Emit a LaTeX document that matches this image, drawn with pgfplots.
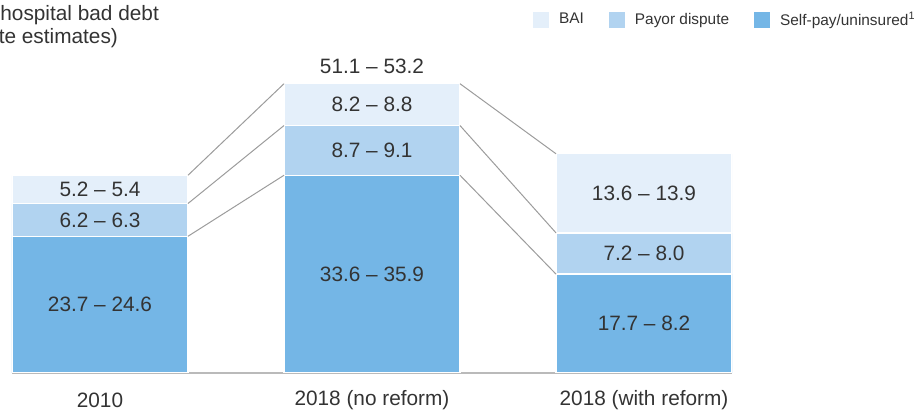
\documentclass[border=0pt]{standalone}
\usepackage{fontspec}
\setmainfont{Liberation Sans}
\usepackage{pgfplots}
\pgfplotsset{compat=1.18}
\usepackage{pgfplotstable}

\definecolor{cBAI}{HTML}{E4EFFA}
\definecolor{cPay}{HTML}{B1D3F0}
\definecolor{cSelf}{HTML}{74B6E6}
\definecolor{cTxt}{HTML}{333333}
\definecolor{cLine}{HTML}{9C9C9C}

% segment heights (billion $), bottom to top
\pgfplotstableread{
x self pay bai
0 24.2 5.8 5.0
1 35.0 8.8 7.4
2 17.5 7.3 14.0
}\bars

% value labels at segment middles
\pgfplotstableread[col sep=comma]{
x,y,label
0,12.1,23.7 – 24.6
0,27.1,6.2 – 6.3
0,32.5,5.2 – 5.4
1,17.5,33.6 – 35.9
1,39.4,8.7 – 9.1
1,47.5,8.2 – 8.8
1,54.2,51.1 – 53.2
2,8.75,17.7 – 8.2
2,21.15,7.2 – 8.0
2,31.8,13.6 – 13.9
}\labels

\newcommand{\valfont}{\fontsize{10.4}{12}\selectfont}

\begin{document}
\begin{tikzpicture}
\useasboundingbox (-6pt,-19pt) rectangle (454pt,186.5pt);

\pgfplotsset{
  base/.style={
    scale only axis,
    width=360pt, height=169.5pt,
    xmin=-0.3235, xmax=2.3235,
    ymin=0, ymax=60,
    at={(0,0)}, anchor=south west,
  }
}

\begin{axis}[
    base,
    ybar stacked,
    bar width=88pt,
    axis x line*=bottom,
    axis y line=none,
    x axis line style={draw=cLine!70, line width=0.6pt},
    xtick={0,1,2},
    xticklabels={2010, 2018 (no reform), 2018 (with reform)},
    major tick length=0pt,
    xticklabel style={font=\valfont, text=cTxt, anchor=center, yshift=-13.5pt},
    ytick=\empty,
  ]
  \addplot[fill=cSelf, draw=white, line width=0.7pt] table[x=x, y=self] {\bars};
  \addplot[fill=cPay, draw=white, line width=0.7pt] table[x=x, y=pay] {\bars};
  \addplot[fill=cBAI, draw=white, line width=0.7pt] table[x=x, y=bai] {\bars};
\end{axis}

\begin{axis}[
    base,
    hide axis,
    legend columns=3,
    legend image code/.code={\path[#1] (0pt,-4pt) rectangle (8pt,4pt); \path (11pt,0pt);},
    legend style={at={(1.261,1.041)}, anchor=east, draw=none, fill=none,
      inner sep=0pt, font=\fontsize{7.7}{9}\selectfont, text=cTxt,
      /tikz/every even column/.append style={column sep=10.5pt},
      nodes={inner sep=2pt}},
  ]
  \addlegendimage{fill=cBAI, draw=none}
  \addlegendentry{BAI}
  \addlegendimage{fill=cPay, draw=none}
  \addlegendentry{Payor dispute}
  \addlegendimage{fill=cSelf, draw=none}
  \addlegendentry{Self-pay/uninsured\textsuperscript{1}}

  % connectors between segment tops
  \addplot[cLine, line width=0.5pt, forget plot] coordinates {(0.3235,24.2) (0.6765,35.0)};
  \addplot[cLine, line width=0.5pt, forget plot] coordinates {(0.3235,30.0) (0.6765,43.8)};
  \addplot[cLine, line width=0.5pt, forget plot] coordinates {(0.3235,35.0) (0.6765,51.2)};
  \addplot[cLine, line width=0.5pt, forget plot] coordinates {(1.3235,35.0) (1.6765,17.5)};
  \addplot[cLine, line width=0.5pt, forget plot] coordinates {(1.3235,43.8) (1.6765,24.8)};
  \addplot[cLine, line width=0.5pt, forget plot] coordinates {(1.3235,51.2) (1.6765,38.8)};

  \addplot[only marks, mark=none, forget plot,
    point meta=explicit symbolic,
    nodes near coords,
    every node near coord/.append style={anchor=center, font=\valfont, text=cTxt, inner sep=0pt},
  ] table[x=x, y=y, meta=label] {\labels};
\end{axis}

\node[anchor=base west, font=\valfont, text=cTxt, inner sep=0pt] at (-6pt,176pt) {hospital bad debt};
\node[anchor=base west, font=\valfont, text=cTxt, inner sep=0pt] at (-6.8pt,164.5pt) {te estimates)};
\end{tikzpicture}
\end{document}
